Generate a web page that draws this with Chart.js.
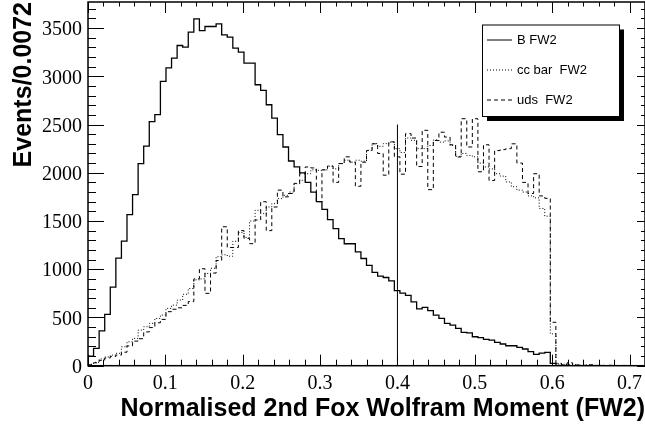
<!DOCTYPE html>
<html>
<head>
<meta charset="utf-8">
<title>FW2</title>
<script src="https://cdn.jsdelivr.net/npm/chart.js@4.4.1/dist/chart.umd.min.js"></script>
<style>
  html, body { margin: 0; padding: 0; background: #fff; }
  canvas { display: block; }
</style>
</head>
<body>
<canvas id="fw2_chart" width="645" height="429"></canvas>
<script>
// ビン幅 0.0072、0〜0.72 を100ビン
const binWidth = 0.0072;
const xMax = 0.72;
const yMax = 3770;
const xTicks = [0, 0.1, 0.2, 0.3, 0.4, 0.5, 0.6, 0.7];
const yTicks = [0, 500, 1000, 1500, 2000, 2500, 3000, 3500];

const bFw2 = [
  100, 180, 360, 532, 815, 1115, 1292, 1567, 1774, 2095,
  2277, 2529, 2602, 2947, 3088, 3188, 3319, 3302, 3457, 3596,
  3474, 3516, 3516, 3544, 3430, 3405, 3291, 3250, 3136, 3136,
  2912, 2853, 2705, 2567, 2395, 2267, 2122, 2060, 1998, 1900,
  1800, 1700, 1620, 1515, 1420, 1318, 1264, 1264, 1180, 1111,
  1040, 968, 928, 914, 880, 778, 752, 728, 662, 588,
  604, 570, 525, 490, 438, 421, 387, 345, 340, 300,
  290, 273, 266, 242, 225, 207, 207, 190, 173, 145,
  118, 131, 138, 25, 3, 2, 1, 0, 1, 0,
  0, 0, 0, 0, 0, 0, 0, 0, 0, 0
];
const ccFw2 = [
  15, 35, 70, 90, 110, 128, 197, 248, 283, 369,
  404, 439, 490, 525, 594, 628, 680, 740, 800, 890,
  900, 956, 1010, 1130, 1150, 1135, 1290, 1380, 1330, 1500,
  1611, 1576, 1645, 1680, 1732, 1766, 1800, 1887, 1922, 1990,
  2030, 2025, 2030, 2067, 2040, 2095, 2130, 2110, 2130, 2120,
  2233, 2302, 2274, 2302, 2318, 2250, 2210, 2360, 2336, 2250,
  2250, 2282, 2340, 2318, 2330, 2282, 2170, 2200, 2180, 2165,
  2100, 2060, 2040, 1990, 1965, 1905, 1855, 1820, 1800, 1760,
  1740, 1630, 1550, 330, 20, 15, 10, 12, 5, 8,
  4, 3, 5, 2, 3, 1, 2, 1, 0, 1
];
const udsFw2 = [
  10, 30, 55, 80, 95, 110, 140, 205, 255, 280,
  350, 395, 445, 480, 560, 585, 600, 625, 665, 900,
  1005, 750, 960, 1090, 1440, 1225, 1225, 1400, 1320, 1265,
  1510, 1700, 1400, 1645, 1820, 1750, 1785, 1890, 1990, 2060,
  2050, 1700, 2030, 2070, 1900, 2095, 2165, 2110, 1860, 2110,
  2230, 2300, 2200, 1975, 2320, 2165, 1985, 2405, 2360, 2065,
  2440, 1825, 2335, 2420, 2370, 2290, 2163, 2560, 2267, 2560,
  2010, 2290, 1920, 2230, 2240, 2250, 2300, 2100, 1900, 1785,
  1990, 1760, 1735, 450, 25, 10, 30, 8, 6, 4,
  10, 3, 2, 5, 2, 1, 3, 1, 0, 0
];

// 0.4 のカット線
const cutX = 0.4;
const cutHeight = 2500;

const seriesLabels = ['B FW2', 'cc bar  FW2', 'uds  FW2'];

// ビンの左端に点を置き、最後に右端を足す
function toSteps(values) {
  const pts = values.map((v, i) => ({ x: i * binWidth, y: v }));
  pts.push({ x: values.length * binWidth, y: values[values.length - 1] });
  return pts;
}

const histStyle = {
  stepped: 'before',
  pointRadius: 0,
  borderColor: '#000',
  fill: false,
  tension: 0
};

const tickFont = { family: '"Liberation Serif", "Times New Roman", serif', size: 20 };
const titleFont = { family: '"Liberation Sans", Arial, sans-serif', size: 25, weight: 'bold' };

// ラベルのはみ出し分の余白を消す
function noLabelPadding(scale) {
  scale.paddingTop = 0;
  scale.paddingBottom = 0;
  scale.paddingLeft = 0;
  scale.paddingRight = 0;
}

//枠と目盛り（内向き）ここから
const frameTicks = {
  id: 'frameTicks',
  afterDatasetsDraw(chart) {
    const { ctx, chartArea: a, scales: { x, y } } = chart;
    ctx.save();
    ctx.strokeStyle = '#000';
    ctx.lineWidth = 1;
    ctx.beginPath();
    for (let v = 0; v <= y.max; v += 100) {
      const py = Math.round(y.getPixelForValue(v)) + 0.5;
      const major = v % 500 === 0;
      ctx.moveTo(a.left, py);
      ctx.lineTo(a.left + (major ? 16 : 8), py);
      ctx.moveTo(a.right, py);
      ctx.lineTo(a.right - (major ? 8 : 4), py);
    }
    for (let i = 0; i * 0.02 <= x.max + 1e-9; i++) {
      const px = Math.round(x.getPixelForValue(i * 0.02)) + 0.5;
      const major = i % 5 === 0;
      ctx.moveTo(px, a.bottom);
      ctx.lineTo(px, a.bottom - (major ? 11 : 6));
      ctx.moveTo(px, a.top);
      ctx.lineTo(px, a.top + (major ? 11 : 4.5));
    }
    ctx.stroke();
    ctx.lineWidth = 1.5;
    ctx.strokeRect(a.left, a.top, a.right - a.left, a.bottom - a.top);
    ctx.restore();
  }
};
//枠と目盛りここまで

//凡例（影つきの箱）ここから
const boxLegend = {
  id: 'boxLegend',
  afterDraw(chart) {
    const { ctx } = chart;
    const left = 482, top = 24.5, w = 137, h = 91.5;
    ctx.save();
    ctx.fillStyle = '#000';
    ctx.fillRect(left + 5, top + 5, w, h);
    ctx.fillStyle = '#fff';
    ctx.fillRect(left, top, w, h);
    ctx.strokeStyle = '#000';
    ctx.lineWidth = 1;
    ctx.strokeRect(left + 0.5, top + 0.5, w, h);
    ctx.font = '13px "Liberation Sans", Arial, sans-serif';
    ctx.textBaseline = 'middle';
    ctx.fillStyle = '#000';
    chart.data.datasets.slice(0, 3).forEach((ds, i) => {
      const ly = top + 15.5 + i * 30;
      ctx.setLineDash(ds.borderDash || []);
      ctx.lineWidth = 1;
      ctx.beginPath();
      ctx.moveTo(left + 5, ly);
      ctx.lineTo(left + 30, ly);
      ctx.stroke();
      ctx.setLineDash([]);
      ctx.fillText(ds.label, left + 35, ly);
    });
    ctx.restore();
  }
};
//凡例ここまで

const fw2 = document.getElementById('fw2_chart');
new Chart(fw2, {
  type: 'line',
  data: {
    datasets: [
      { ...histStyle, label: seriesLabels[0], data: toSteps(bFw2), borderWidth: 1.3 },
      { ...histStyle, label: seriesLabels[1], data: toSteps(ccFw2), borderWidth: 1, borderDash: [1, 2] },
      { ...histStyle, label: seriesLabels[2], data: toSteps(udsFw2), borderWidth: 1, borderDash: [4, 3] },
      {
        label: 'cut',
        data: [{ x: cutX, y: 0 }, { x: cutX, y: cutHeight }],
        borderColor: '#000',
        borderWidth: 1,
        pointRadius: 0
      }
    ]
  },
  plugins: [frameTicks, boxLegend],
  options: {
    responsive: false,
    animation: false,
    devicePixelRatio: 1,
    layout: { padding: { top: 2, right: 0, left: 0, bottom: 0 } },
    plugins: {
      legend: { display: false },
      tooltip: { enabled: false }
    },
    scales: {
      x: {
        type: 'linear',
        min: 0,
        max: xMax,
        grid: { display: false, drawTicks: false },
        border: { display: false },
        afterFit: (scale) => { scale.height = 63.3; noLabelPadding(scale); },
        afterBuildTicks: (scale) => { scale.ticks = xTicks.map(v => ({ value: v })); },
        ticks: {
          autoSkip: false,
          maxRotation: 0,
          padding: 6,
          color: '#000',
          font: tickFont,
          callback: (value) => value === 0 ? '0' : value.toFixed(1)
        },
        title: {
          display: true,
          text: 'Normalised 2nd Fox Wolfram Moment (FW2)',
          align: 'end',
          color: '#000',
          padding: { bottom: 5 },
          font: titleFont
        }
      },
      y: {
        min: 0,
        max: yMax,
        grid: { display: false, drawTicks: false },
        border: { display: false },
        afterFit: (scale) => { scale.width = 88; noLabelPadding(scale); },
        afterBuildTicks: (scale) => { scale.ticks = yTicks.map(v => ({ value: v })); },
        ticks: {
          autoSkip: false,
          padding: 6,
          labelOffset: 2,
          color: '#000',
          font: tickFont,
          callback: (value) => String(value)
        },
        title: {
          display: true,
          text: 'Events/0.0072',
          align: 'end',
          color: '#000',
          padding: { top: 9 },
          font: titleFont
        }
      }
    }
  }
});
</script>
</body>
</html>
